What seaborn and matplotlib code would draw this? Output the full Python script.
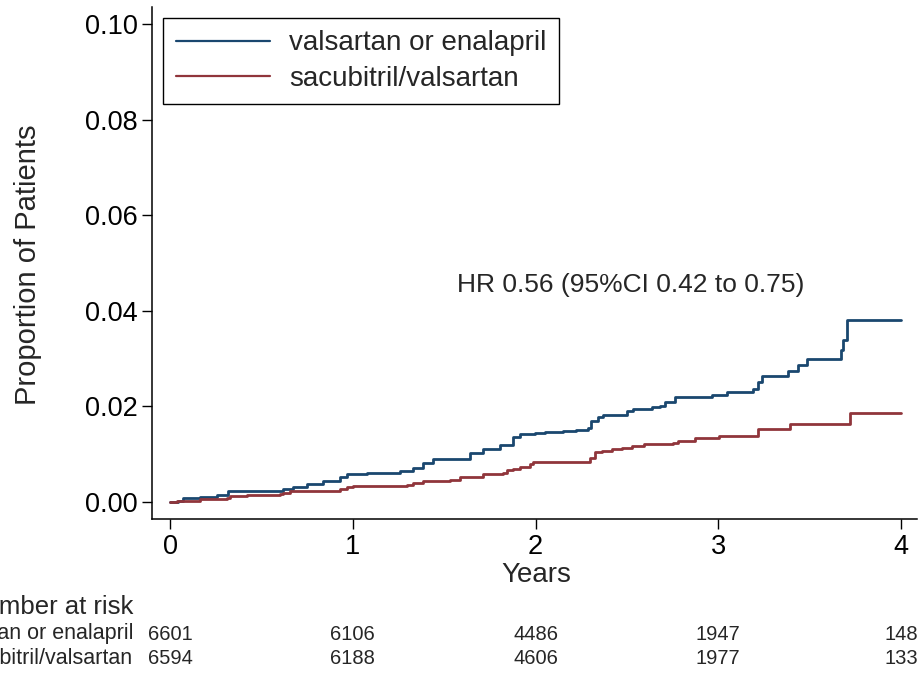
import matplotlib
matplotlib.use("Agg")
import matplotlib.pyplot as plt
import seaborn as sns
import pandas as pd

# ---- data ----
group_names = ["valsartan or enalapril", "sacubitril/valsartan"]

ve_years = [0.0, 0.044, 0.071, 0.164, 0.257, 0.317, 0.476, 0.618, 0.673, 0.750, 0.837,
            0.930, 0.969, 1.078, 1.259, 1.330, 1.384, 1.439, 1.642, 1.713, 1.806,
            1.877, 1.915, 1.997, 2.052, 2.150, 2.222, 2.287, 2.304, 2.342, 2.369,
            2.484, 2.501, 2.534, 2.637, 2.681, 2.709, 2.763, 2.966, 3.048, 3.190,
            3.217, 3.239, 3.382, 3.436, 3.486, 3.672, 3.683, 3.705, 4.0]
ve_prop = [0.0, 0.0003, 0.0008, 0.0011, 0.0015, 0.0022, 0.0024, 0.0027, 0.0032, 0.0038, 0.0044,
           0.0052, 0.0059, 0.0061, 0.0065, 0.0071, 0.0081, 0.0090, 0.0102, 0.0111, 0.0119,
           0.0136, 0.0142, 0.0144, 0.0146, 0.0148, 0.0150, 0.0155, 0.0170, 0.0178, 0.0181,
           0.0182, 0.0191, 0.0195, 0.0199, 0.0201, 0.0210, 0.0220, 0.0224, 0.0230, 0.0236,
           0.0252, 0.0264, 0.0275, 0.0287, 0.0299, 0.0318, 0.0339, 0.0381, 0.0381]

sv_years = [0.0, 0.038, 0.164, 0.312, 0.328, 0.421, 0.602, 0.618, 0.657, 0.930, 0.969,
            1.001, 1.297, 1.330, 1.384, 1.532, 1.587, 1.713, 1.822, 1.844, 1.877,
            1.915, 1.970, 1.986, 2.298, 2.326, 2.364, 2.419, 2.473, 2.528, 2.594,
            2.752, 2.780, 2.873, 3.004, 3.217, 3.393, 3.721, 4.0]
sv_prop = [0.0, 0.0003, 0.0006, 0.0009, 0.0012, 0.0014, 0.0016, 0.0019, 0.0024, 0.0027, 0.0032,
           0.0033, 0.0035, 0.0040, 0.0043, 0.0046, 0.0052, 0.0058, 0.0061, 0.0067, 0.0070,
           0.0074, 0.0080, 0.0083, 0.0092, 0.0104, 0.0107, 0.0110, 0.0112, 0.0118, 0.0121,
           0.0124, 0.0128, 0.0133, 0.0138, 0.0153, 0.0163, 0.0187, 0.0187]

risk_times = [0, 1, 2, 3, 4]
risk_ve = [6601, 6106, 4486, 1947, 148]
risk_sv = [6594, 6188, 4606, 1977, 133]

x_ticks = [0, 1, 2, 3, 4]
y_ticks = [0.00, 0.02, 0.04, 0.06, 0.08, 0.10]
y_tick_labels = ["0.00", "0.02", "0.04", "0.06", "0.08", "0.10"]

hr_text = "HR 0.56 (95%CI 0.42 to 0.75)"

colors = {"valsartan or enalapril": "#1a476f", "sacubitril/valsartan": "#90353b"}

# ---- build table ----
df = pd.concat([
    pd.DataFrame({"Years": ve_years, "Proportion": ve_prop, "group": group_names[0]}),
    pd.DataFrame({"Years": sv_years, "Proportion": sv_prop, "group": group_names[1]}),
], ignore_index=True)

sns.set_style("ticks")
plt.rcParams["font.family"] = ["Liberation Sans", "DejaVu Sans"]

fig = plt.figure(figsize=(9.23, 6.73), dpi=100)
ax = fig.add_axes([152 / 923, 1 - 519 / 673, (917 - 152) / 923, (519 - 7) / 673])

sns.lineplot(data=df, x="Years", y="Proportion", hue="group", hue_order=group_names,
             palette=colors, estimator=None, errorbar=None, drawstyle="steps-post",
             linewidth=2.0, ax=ax)

ax.set_xlim(-18 / 182.75, 4 + 16 / 182.75)
ax.set_ylim(-17 / 4780, 0.1 + 17 / 4780)
ax.set_xticks(x_ticks)
ax.set_xticklabels([str(t) for t in x_ticks])
ax.set_yticks(y_ticks)
ax.set_yticklabels(y_tick_labels)
ax.tick_params(axis="both", direction="out", length=7, width=1.0, labelsize=19.5,
               pad=3.5, colors="black")
for s in ["top", "right"]:
    ax.spines[s].set_visible(False)
for s in ["left", "bottom"]:
    ax.spines[s].set_linewidth(1.1)
    ax.spines[s].set_color("black")

ax.set_xlabel("Years", fontsize=20)
ax.set_ylabel("Proportion of Patients", fontsize=21)
ax.xaxis.set_label_coords((536 - 152) / 765, (519 - 575) / 512)
ax.yaxis.set_label_coords((28 - 152) / 765, (519 - 265) / 512)
ax.xaxis.label.set_va("center")
ax.yaxis.label.set_va("center")

leg = ax.legend(loc="upper left", bbox_to_anchor=((163 - 152) / 765, (519 - 18) / 512),
                borderaxespad=0, fontsize=20, frameon=True, fancybox=False,
                edgecolor="black", framealpha=1, handlelength=3.4, handletextpad=0.7,
                borderpad=0.45, labelspacing=0.33, title=None)
leg.get_frame().set_linewidth(1.0)
for h in leg.get_lines():
    h.set_linewidth(1.6)

ax.text((457 - 170) / 182.75, (502 - 285) / 4780, hr_text, fontsize=19,
        ha="left", va="center")

# ---- number at risk table ----
xt = ax.get_xaxis_transform()
row_y = [(519 - 634) / 512, (519 - 659) / 512]
for t, a, b in zip(risk_times, risk_ve, risk_sv):
    ax.text(t, row_y[0], str(a), transform=xt, ha="center", va="center",
            fontsize=14.5, clip_on=False)
    ax.text(t, row_y[1], str(b), transform=xt, ha="center", va="center",
            fontsize=14.5, clip_on=False)
lab_x = (133 - 152) / 765
ax.text(lab_x, row_y[0], group_names[0], transform=ax.transAxes, ha="right",
        va="center", fontsize=15.5, clip_on=False)
ax.text(lab_x, row_y[1], group_names[1], transform=ax.transAxes, ha="right",
        va="center", fontsize=15.5, clip_on=False)
ax.text(lab_x, (519 - 607) / 512, "Number at risk", transform=ax.transAxes,
        ha="right", va="center", fontsize=18.5, clip_on=False)

fig.savefig("out.png", dpi=100)
